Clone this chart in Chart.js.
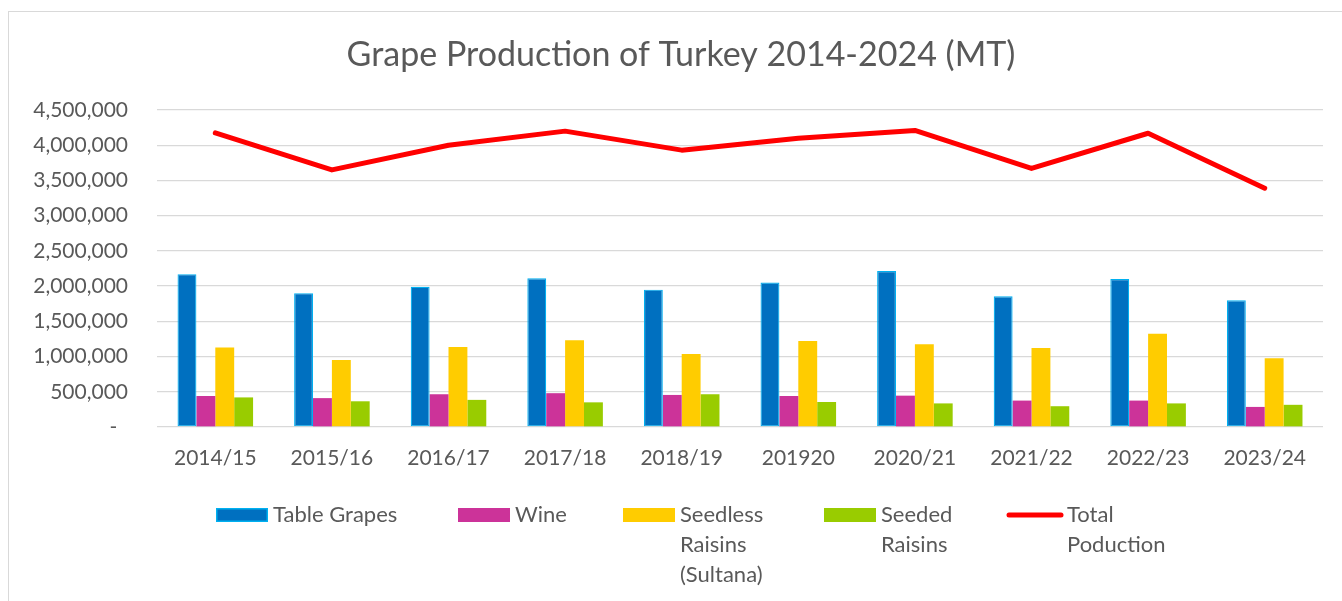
<!DOCTYPE html>
<html>
<head>
<meta charset="utf-8">
<script src="https://cdn.jsdelivr.net/npm/chart.js@4/dist/chart.umd.min.js"></script>
<style>
  html, body { margin: 0; padding: 0; background: #ffffff; }
  #wrap { position: relative; width: 1342px; height: 601px; }
  canvas { display: block; }
</style>
</head>
<body>
<div id="wrap"><canvas id="c" width="1342" height="601"></canvas></div>
<script>
// ---- data ----
const categories = ["2014/15", "2015/16", "2016/17", "2017/18", "2018/19", "201920", "2020/21", "2021/22", "2022/23", "2023/24"];
const tableGrapes = [2170000, 1900000, 1990000, 2110000, 1950000, 2050000, 2215000, 1855000, 2100000, 1800000];
const wine = [440000, 410000, 465000, 480000, 455000, 440000, 445000, 375000, 375000, 285000];
const seedlessRaisins = [1130000, 950000, 1135000, 1230000, 1035000, 1220000, 1175000, 1120000, 1325000, 975000];
const seededRaisins = [420000, 365000, 385000, 350000, 465000, 355000, 335000, 295000, 335000, 315000];
const totalProduction = [4175000, 3650000, 4000000, 4200000, 3930000, 4100000, 4210000, 3670000, 4170000, 3390000];
const seriesNames = ["Table Grapes", "Wine", "Seedless Raisins (Sultana)", "Seeded Raisins", "Total Poduction"];
const legendLines = [["Table Grapes"], ["Wine"], ["Seedless", "Raisins", "(Sultana)"], ["Seeded", "Raisins"], ["Total", "Poduction"]];
const yTickValues = [0, 500000, 1000000, 1500000, 2000000, 2500000, 3000000, 3500000, 4000000, 4500000];
const chartTitle = "Grape Production of Turkey 2014-2024 (MT)";

// ---- style ----
const FONT = "Lato, 'Open Sans', sans-serif";
const TEXT = "#595959";
const GRID = "#d9d9d9";
const colors = ["#0070C0", "#CC3399", "#FFCC00", "#99CC00", "#FF0000"];

const frame = {
  id: 'frame',
  beforeDraw(chart) {
    const ctx = chart.ctx;
    ctx.save();
    ctx.strokeStyle = GRID;
    ctx.lineWidth = 1;
    ctx.strokeRect(8.5, 11.5, 1400, 700);
    ctx.restore();
  }
};

const titleText = {
  id: 'titleText',
  afterDraw(chart) {
    const ctx = chart.ctx;
    ctx.save();
    ctx.font = "34px " + FONT;
    ctx.fillStyle = TEXT;
    ctx.textAlign = 'center';
    ctx.textBaseline = 'middle';
    ctx.fillText(chartTitle, 681, 55);
    ctx.restore();
  }
};

const customLegend = {
  id: 'customLegend',
  afterDraw(chart) {
    const ctx = chart.ctx;
    const xs = [216, 458, 623, 824, 1007];
    const boxW = 52, boxH = 14, boxTop = 508, firstY = 515, lh = 30;
    ctx.save();
    ctx.font = "22px " + FONT;
    ctx.fillStyle = TEXT;
    ctx.textBaseline = 'middle';
    ctx.textAlign = 'left';
    chart.data.datasets.forEach((ds, i) => {
      const x = xs[i];
      if (ds.type === 'line') {
        ctx.strokeStyle = ds.borderColor;
        ctx.lineWidth = 5;
        ctx.lineCap = 'round';
        ctx.beginPath();
        ctx.moveTo(x + 2, firstY);
        ctx.lineTo(x + boxW + 2, firstY);
        ctx.stroke();
      } else {
        ctx.fillStyle = ds.backgroundColor;
        ctx.fillRect(x, boxTop, boxW, boxH);
        if (ds.borderWidth) {
          ctx.strokeStyle = ds.borderColor;
          ctx.lineWidth = 1.5;
          ctx.strokeRect(x + 0.75, boxTop + 0.75, boxW - 1.5, boxH - 1.5);
        }
      }
      ctx.fillStyle = TEXT;
      const tx = x + boxW + (ds.type === 'line' ? 8 : 5);
      legendLines[i].forEach((line, j) => {
        ctx.fillText(line, tx, firstY + j * lh);
      });
    });
    ctx.restore();
  }
};

new Chart(document.getElementById('c'), {
  data: {
    labels: categories,
    datasets: [
      { type: 'bar', label: seriesNames[0], data: tableGrapes, backgroundColor: colors[0], borderColor: '#00B0F0', borderWidth: 1.2, borderSkipped: false, order: 1 },
      { type: 'bar', label: seriesNames[1], data: wine, backgroundColor: colors[1], borderWidth: 0, order: 1 },
      { type: 'bar', label: seriesNames[2], data: seedlessRaisins, backgroundColor: colors[2], borderWidth: 0, order: 1 },
      { type: 'bar', label: seriesNames[3], data: seededRaisins, backgroundColor: colors[3], borderWidth: 0, order: 1 },
      { type: 'line', label: seriesNames[4], data: totalProduction, borderColor: colors[4], backgroundColor: colors[4], borderWidth: 5, pointRadius: 0, tension: 0, borderCapStyle: 'round', borderJoinStyle: 'round', order: 0 }
    ]
  },
  options: {
    responsive: false,
    animation: false,
    devicePixelRatio: 1,
    layout: { padding: { left: 0, right: 19, top: 110, bottom: 0 } },
    datasets: { bar: { categoryPercentage: 0.648, barPercentage: 1 } },
    plugins: {
      legend: { display: false },
      tooltip: { enabled: false },
      title: { display: false }
    },
    scales: {
      x: {
        grid: { display: false, drawTicks: false },
        border: { display: false },
        ticks: { color: TEXT, font: { family: FONT, size: 21, lineHeight: 1.2 }, padding: 19, maxRotation: 0, autoSkip: false },
        afterFit(scale) { scale.height = 174; }
      },
      y: {
        min: 0,
        max: 4500000,
        afterBuildTicks(scale) { scale.ticks = yTickValues.map(v => ({ value: v })); },
        grid: { color: GRID, lineWidth: 1.3, drawTicks: false },
        border: { display: false },
        ticks: {
          color: TEXT,
          font: { family: FONT, size: 21 },
          padding: 29,
          callback(v) { return v === 0 ? '-  ' : v.toLocaleString('en-US'); }
        },
        afterFit(scale) { scale.width = 157; }
      }
    }
  },
  plugins: [frame, titleText, customLegend]
});
</script>
</body>
</html>
